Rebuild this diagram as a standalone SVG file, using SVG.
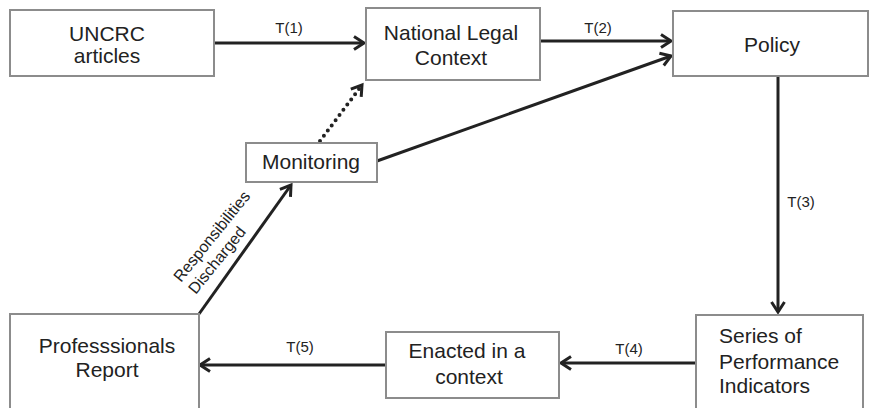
<svg xmlns="http://www.w3.org/2000/svg" width="869" height="408" viewBox="0 0 869 408">
<style>
.box{fill:#fff;stroke:#8c8c8c;stroke-width:2}
.t{font-family:"Liberation Sans",Arial,sans-serif;font-size:21px;fill:#222;text-anchor:middle}
.l{font-family:"Liberation Sans",Arial,sans-serif;font-size:15px;fill:#222;text-anchor:middle}
.r{font-family:"Liberation Sans",Arial,sans-serif;font-size:16px;fill:#222}
.c{fill:none;stroke:#222;stroke-width:3;marker-end:url(#ah)}
.d{fill:none;stroke:#222;stroke-width:4;stroke-linecap:round;stroke-dasharray:0 6.5;marker-end:url(#ah)}
</style>
<defs>
<marker id="ah" markerUnits="userSpaceOnUse" viewBox="-2 -2 17 17" markerWidth="17" markerHeight="17" refX="12" refY="6.5" orient="auto">
<path d="M2,0 L12,6.5 L2,13" fill="none" stroke="#222" stroke-width="3"/>
</marker>
</defs>
<rect width="869" height="408" fill="#fff"/>
<g id="connectors">
<path class="c" d="M214,43 L364,43"/>
<path class="c" d="M540,41 L671,41"/>
<path class="c" d="M377,161 L671,56"/>
<path class="d" d="M320,141 L362,85"/>
<path class="c" d="M778,76 L778,312"/>
<path class="c" d="M696,363 L561,363"/>
<path class="c" d="M386,365 L200,365"/>
<path class="c" d="M199,314 L291,185"/>
<text class="l" x="289" y="33">T(1)</text>
<text class="l" x="598" y="33">T(2)</text>
<text class="l" x="801" y="207">T(3)</text>
<text class="l" x="629" y="354">T(4)</text>
<text class="l" x="300" y="352">T(5)</text>
<g transform="translate(181,283) rotate(-51)">
<text class="r" x="0" y="0">Responsibilities</text>
<text class="r" x="0" y="19">Discharged</text>
</g>
</g>
<g id="uncrc">
<rect class="box" x="10" y="10" width="204" height="66"/>
<text class="t" x="107" y="41">UNCRC</text>
<text class="t" x="107" y="63">articles</text>
</g>
<g id="national">
<rect class="box" x="366" y="8" width="174" height="72"/>
<text class="t" x="451" y="40">National Legal</text>
<text class="t" x="451" y="65">Context</text>
</g>
<g id="policy">
<rect class="box" x="673" y="11" width="195" height="65"/>
<text class="t" x="772" y="52">Policy</text>
</g>
<g id="monitoring">
<rect class="box" x="246" y="143" width="131" height="39"/>
<text class="t" x="311" y="169">Monitoring</text>
</g>
<g id="series">
<rect class="box" x="696" y="315" width="167" height="100"/>
<text class="t" x="719" y="343" style="text-anchor:start">Series of</text>
<text class="t" x="719" y="369" style="text-anchor:start">Performance</text>
<text class="t" x="719" y="393" style="text-anchor:start">Indicators</text>
</g>
<g id="enacted">
<rect class="box" x="386" y="332" width="173" height="66"/>
<text class="t" x="467" y="358">Enacted in a</text>
<text class="t" x="469" y="384">context</text>
</g>
<g id="professionals">
<rect class="box" x="10" y="314" width="189" height="100"/>
<text class="t" x="107" y="353">Professsionals</text>
<text class="t" x="107" y="377">Report</text>
</g>
</svg>
